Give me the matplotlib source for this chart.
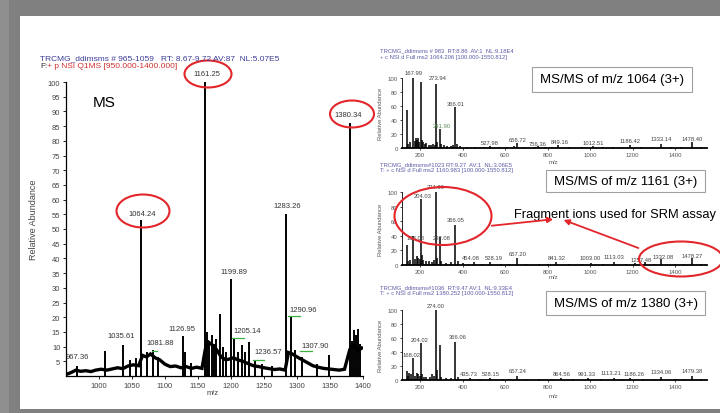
import matplotlib
matplotlib.use("Agg")
import matplotlib.pyplot as plt
from matplotlib.patches import Ellipse, Rectangle

plt.rcParams['font.family'] = ['Liberation Sans', 'DejaVu Sans']

# full MS scan (m/z 950-1400)
ms_mz = [967.36, 1009.5, 1035.61, 1047.0, 1056.0, 1064.24, 1073.0, 1081.88, 1090.0,
         1126.95, 1131.0, 1140.0,
         1161.25, 1163.5, 1167.0, 1170.5, 1174.0, 1178.0, 1183.4, 1188.0, 1193.0,
         1199.89, 1205.14, 1210.0, 1216.0, 1221.0, 1227.5, 1236.57, 1247.0, 1262.0,
         1283.26, 1290.96, 1297.0, 1307.90, 1330.0, 1348.5,
         1380.34, 1383.0, 1386.0, 1389.0, 1392.0, 1396.0]
ms_int = [3.5, 8.5, 10.5, 5.5, 6.0, 53.0, 8.0, 9.0, 6.5,
          13.5, 8.0, 4.5,
          100.0, 15.0, 12.0, 14.0, 11.0, 12.5, 21.0, 10.0, 8.0,
          33.0, 12.5, 8.0, 10.5, 8.0, 11.5, 5.0, 4.0, 3.5,
          55.0, 20.0, 9.0, 6.5, 4.0, 7.0,
          86.0, 12.0, 15.5, 14.0, 16.0, 11.0]

# baseline noise band of the full scan
base_mz = [950, 958, 965, 972, 980, 988, 995, 1003, 1012, 1020, 1028, 1036, 1044, 1052, 1060,
           1066, 1072, 1078, 1085, 1092, 1100, 1108, 1116, 1124, 1132, 1140, 1148, 1156,
           1161, 1166, 1172, 1178, 1185, 1192, 1198, 1204, 1210, 1218, 1226, 1234, 1242, 1250,
           1258, 1266, 1274, 1282, 1287, 1293, 1300, 1308, 1316, 1324, 1332, 1340, 1348, 1356,
           1364, 1372, 1380, 1386, 1392, 1398]
base_int = [0.5, 1.2, 2.0, 1.6, 1.8, 1.5, 2.0, 2.3, 2.0, 2.4, 2.8, 2.5, 3.4, 3.8, 3.5,
            7.0, 6.5, 7.5, 6.2, 5.5, 4.0, 3.2, 3.4, 2.8, 3.2, 2.6, 3.0, 2.6,
            9.0, 11.5, 10.5, 9.0, 6.5, 5.5, 5.8, 6.2, 5.5, 5.0, 4.2, 3.5, 3.2, 2.8,
            2.5, 2.2, 2.4, 2.0, 8.0, 7.5, 6.5, 5.5, 4.5, 3.5, 3.0, 2.6, 2.4, 2.2,
            2.0, 2.3, 9.0, 10.5, 8.5, 9.5]

ms_labels = ["967.36", "1035.61", "1064.24", "1081.88", "1126.95", "1161.25", "1199.89",
             "1205.14", "1236.57", "1283.26", "1290.96", "1307.90", "1380.34"]
ms_label_x = [967, 1034, 1066, 1092, 1125, 1164, 1205, 1225, 1257, 1285, 1309, 1327, 1377]
ms_label_y = [6.5, 13.7, 55.4, 11.5, 16.3, 103, 35.6, 15.4, 8.5, 58, 22.5, 10.3, 89]

# little green leader lines next to some labels
green_x0 = [1080, 1202, 1234, 1286, 1305]
green_x1 = [1088, 1220, 1250, 1305, 1322]
green_y = [8.6, 13, 5.5, 20.5, 8.4]

# MS/MS of m/z 1064 (3+)
p1_mz = [138, 145, 152, 168, 175, 180, 186, 191, 197, 204, 209, 214, 222, 230, 240, 252, 260, 268,
         274, 281, 292, 300, 312, 328, 345, 355, 366, 375, 390, 420, 460, 500, 528, 570, 610, 640,
         657, 690, 740, 757, 790, 820, 849, 900, 960, 1013, 1060, 1110, 1150, 1186, 1240, 1290,
         1333, 1380, 1430, 1478, 1520]
p1_int = [55, 6, 8, 100, 10, 14, 12, 15, 9, 95, 12, 8, 6, 7, 5, 4, 6, 5,
          92, 8, 27, 6, 4, 3, 3, 4, 58, 6, 3, 2, 2, 2, 3, 2, 2, 3,
          7, 2, 2, 3, 2, 2, 4, 2, 2, 3, 2, 2, 2, 5, 2, 2,
          6, 2, 2, 8, 2]
p1_labels = ["167.99", "273.94", "366.01", "291.90", "527.98", "656.72", "756.36", "849.16",
             "1012.51", "1186.42", "1333.14", "1478.40"]
p1_label_x = [168, 282, 366, 303, 528, 657, 755, 857, 1013, 1186, 1333, 1478]
p1_label_y = [108, 101, 64, 32, 8, 12, 7, 10, 8, 11, 13, 14]

# MS/MS of m/z 1161 (3+)
p2_mz = [138, 145, 152, 168, 175, 186, 192, 198, 204, 210, 216, 226, 240, 258, 266, 274, 282, 292,
         300, 320, 345, 366, 378, 400, 454, 490, 528, 580, 620, 657, 700, 760, 800, 841, 900, 960,
         1003, 1060, 1113, 1170, 1210, 1257, 1300, 1332, 1400, 1440, 1478, 1520]
p2_int = [28, 5, 7, 40, 8, 12, 10, 8, 90, 14, 7, 5, 6, 4, 7, 100, 9, 38,
          5, 3, 4, 55, 5, 3, 4, 2, 4, 2, 2, 9, 2, 2, 2, 4, 2, 2,
          3, 2, 4, 2, 3, 4, 2, 8, 2, 2, 9, 2]
p2_labels = ["168.08", "204.03", "274.00", "292.08", "366.05", "454.08", "528.19", "657.20",
             "841.32", "1003.00", "1113.03", "1257.48", "1332.08", "1478.27"]
p2_label_x = [178, 212, 274, 300, 366, 440, 545, 657, 841, 1000, 1113, 1242, 1345, 1478]
p2_label_y = [37, 95, 108, 38, 62, 10, 10, 16, 10, 10, 12, 7, 12, 13]

# MS/MS of m/z 1380 (3+)
p3_mz = [138, 145, 150, 158, 168, 175, 186, 192, 198, 204, 210, 218, 230, 245, 258, 266, 274, 281,
         292, 300, 320, 345, 366, 380, 436, 480, 528, 590, 620, 657, 700, 760, 820, 865, 920, 991,
         1050, 1113, 1150, 1186, 1250, 1300, 1334, 1400, 1440, 1479, 1520]
p3_int = [13, 6, 10, 8, 31, 6, 10, 8, 6, 53, 9, 5, 4, 4, 8, 6, 100, 15,
          50, 5, 3, 3, 55, 4, 3, 2, 3, 2, 2, 6, 2, 2, 2, 3, 2, 3,
          2, 3, 2, 3, 2, 2, 4, 2, 2, 6, 2]
p3_labels = ["168.02", "204.02", "274.00", "366.06", "435.73", "528.15", "657.24", "864.56",
             "991.33", "1113.21", "1186.26", "1334.06", "1479.38"]
p3_label_x = [160, 198, 274, 375, 430, 535, 657, 865, 985, 1100, 1205, 1334, 1479]
p3_label_y = [36, 58, 107, 62, 9, 9, 13, 9, 9, 11, 9, 12, 13]

panel_titles = ["MS/MS of m/z 1064 (3+)", "MS/MS of m/z 1161 (3+)", "MS/MS of m/z 1380 (3+)"]
panel_head1 = ["TRCMG_ddimsms # 983  RT:8.86  AV:1  NL:9.18E4",
               "TRCMG_ddimsms#1023 RT:9.27  AV:1  NL:3.06E5",
               "TRCMG_ddimsms#1036  RT:9.47 AV:1  NL:9.33E4"]
panel_head2 = ["+ c NSI d Full ms2 1064.206 [100.000-1550.812]",
               "T: + c NSI d Full ms2 1160.983 [100.000-1550.812]",
               "T: + c NSI d Full ms2 1380.252 [100.000-1550.812]"]

W, H = 720, 414
fig = plt.figure(figsize=(W / 100, H / 100), dpi=100, facecolor='#808080')

# background: grey slide with white panel
bg = fig.add_axes([0, 0, 1, 1], zorder=0)
bg.set_xlim(0, W)
bg.set_ylim(H, 0)
bg.axis('off')
bg.add_patch(Rectangle((0, 0), 9, H, facecolor='#8f8f8f', edgecolor='none'))
bg.add_patch(Rectangle((20, 17), 700, 393, facecolor='white', edgecolor='none'))


def px_axes(x0, y0, x1, y1):
    a = fig.add_axes([x0 / W, 1 - y1 / H, (x1 - x0) / W, (y1 - y0) / H], zorder=2)
    a.patch.set_alpha(0)
    return a


# ---- main MS spectrum ----
ax = px_axes(66, 83, 363, 377)
ax.plot(base_mz, base_int, color='black', lw=2.4, solid_joinstyle='miter')
ax.vlines(ms_mz, 0, ms_int, color='black', lw=1.4)
for t, x, y in zip(ms_labels, ms_label_x, ms_label_y):
    ax.text(x, y, t, fontsize=5.5, ha='center', va='center', color='#333333', clip_on=False)
for x0, x1, y in zip(green_x0, green_x1, green_y):
    ax.plot([x0, x1], [y, y], color='#3cb043', lw=0.9)
ax.set_xlim(950, 1400)
ax.set_ylim(0, 100)
ax.set_xticks([1000, 1050, 1100, 1150, 1200, 1250, 1300, 1350, 1400])
ax.set_yticks(list(range(5, 101, 5)))
ax.tick_params(labelsize=5.5, labelcolor='#444444', length=2, width=0.6, pad=2)
for s in ['top', 'right']:
    ax.spines[s].set_visible(False)
for s in ['left', 'bottom']:
    ax.spines[s].set_linewidth(0.9)

# ---- three MS/MS panels ----
panels = [(p1_mz, p1_int, p1_labels, p1_label_x, p1_label_y, 79, 149),
          (p2_mz, p2_int, p2_labels, p2_label_x, p2_label_y, 193, 266),
          (p3_mz, p3_int, p3_labels, p3_label_x, p3_label_y, 311, 381)]
for i, (mz, inten, labs, lx, ly, ytop, ybot) in enumerate(panels):
    pa = px_axes(402, ytop, 707, ybot)
    pa.vlines(mz, 0, inten, color='black', lw=1.1)
    for t, x, y in zip(labs, lx, ly):
        col = '#5a8a5a' if t == "291.90" else '#444444'
        pa.text(x, y, t, fontsize=4.2, ha='center', va='center', color=col, clip_on=False)
    pa.set_xlim(115, 1550)
    pa.set_ylim(0, 100)
    pa.set_xticks([200, 400, 600, 800, 1000, 1200, 1400])
    pa.set_yticks([0, 20, 40, 60, 80, 100])
    pa.tick_params(labelsize=4.3, labelcolor='#555555', length=1.5, width=0.5, pad=1.5)
    for s in ['top', 'right']:
        pa.spines[s].set_visible(False)
    pa.spines['left'].set_linewidth(0.6)
    pa.spines['bottom'].set_linewidth(1.3)

# ---- overlay: headers, labels, call-outs ----
ov = fig.add_axes([0, 0, 1, 1], zorder=5)
ov.set_xlim(0, W)
ov.set_ylim(H, 0)
ov.axis('off')
ov.patch.set_alpha(0)

ov.text(40, 59, "TRCMG_ddimsms # 965-1059   RT: 8.67-9.72 AV:87  NL:5.07E5", fontsize=6,
        color='#3c3c96', va='center')
ov.text(40, 66, "F:", fontsize=6, color='#333333', va='center')
ov.text(47, 66, "+ p NSI Q1MS [950.000-1400.000]", fontsize=6, color='#d03030', va='center')
ov.text(93, 103, "MS", fontsize=11, va='center')
ov.text(33, 220, "Relative Abundance", fontsize=6.5, rotation=90, color='#444444',
        ha='center', va='center')
ov.text(213, 394, "m/z", fontsize=5.5, color='#444444', ha='center', va='center')

head_y = [51, 165, 288]
mz_lab_y = [163, 278, 397]
box_rect = [(532, 68, 160, 25), (546, 171, 159, 22), (546, 292, 159, 24)]
for i in range(3):
    ov.text(380, head_y[i], panel_head1[i], fontsize=4.2, color='#5c5ca8', va='center')
    ov.text(380, head_y[i] + 6, panel_head2[i], fontsize=4.2, color='#5c5ca8', va='center')
    ytop, ybot = panels[i][5], panels[i][6]
    ov.text(380, (ytop + ybot) / 2, "Relative Abundance", fontsize=4.2, rotation=90,
            color='#555555', ha='center', va='center')
    ov.text(553, mz_lab_y[i], "m/z", fontsize=4.3, color='#555555', ha='center', va='center')
    bx, by, bw, bh = box_rect[i]
    ov.add_patch(Rectangle((bx, by), bw, bh, facecolor='white', edgecolor='#a0a0a0', lw=0.8))
    ov.text(bx + bw / 2, by + bh / 2, panel_titles[i], fontsize=9.5, ha='center', va='center')

ov.text(514, 215, "Fragment ions used for SRM assay", fontsize=9.3, va='center')

red = '#e3262b'
for (cx, cy, w, h) in [(143, 212, 53, 33), (208, 75, 47, 27), (352, 115, 44, 27),
                       (443, 217, 97, 58), (681, 260, 84, 35)]:
    ov.add_patch(Ellipse((cx, cy), w, h, fill=False, edgecolor=red, lw=1.5))
ov.annotate('', xy=(556, 220), xytext=(489, 227),
            arrowprops=dict(arrowstyle='-|>', color=red, lw=1.3, mutation_scale=8))
ov.annotate('', xy=(561, 220), xytext=(641, 250),
            arrowprops=dict(arrowstyle='-|>', color=red, lw=1.3, mutation_scale=8))

fig.savefig('out.png', dpi=100, facecolor=fig.get_facecolor())
